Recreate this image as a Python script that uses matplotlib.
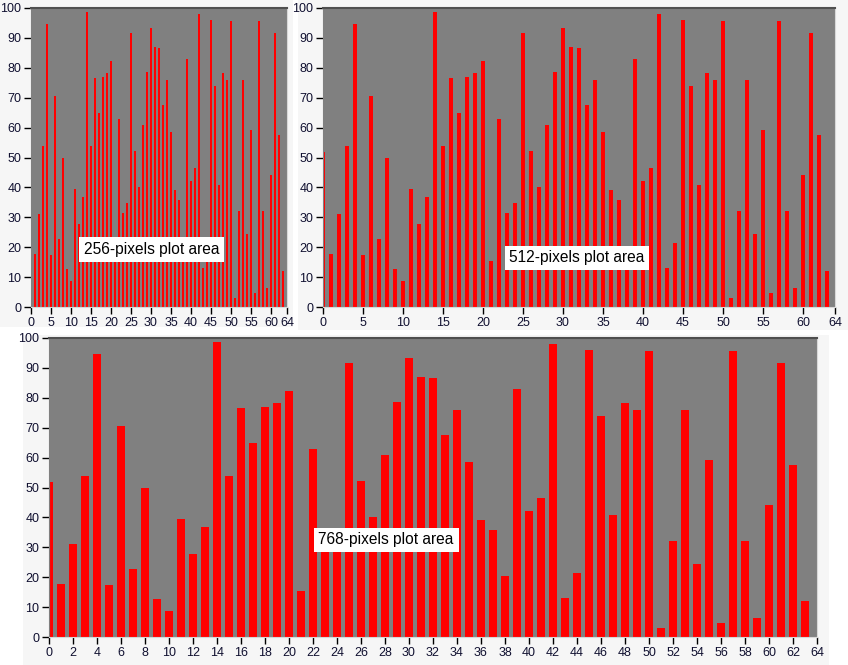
import numpy as np
import matplotlib.pyplot as plt
from matplotlib.patches import Rectangle

# bar heights, index 0..63
values = [51.7, 17.7, 31.2, 53.8, 94.8, 17.4, 70.5, 22.8, 49.7, 12.6,
          8.6, 39.3, 27.9, 36.9, 98.5, 53.8, 76.6, 64.8, 76.9, 78.2,
          82.3, 15.4, 62.8, 31.5, 34.9, 91.8, 52.1, 40.2, 60.8, 78.5,
          93.4, 87.0, 86.7, 67.5, 75.9, 58.4, 39.2, 35.9, 20.3, 82.9,
          42.0, 46.6, 98.1, 13.0, 21.5, 96.1, 73.9, 40.9, 78.2, 75.9,
          95.8, 2.9, 32.2, 75.9, 24.5, 59.1, 4.6, 95.8, 32.2, 6.2,
          44.3, 91.7, 57.5, 12.0]
ticks_small = [0, 5, 10, 15, 20, 25, 30, 35, 40, 45, 50, 55, 60, 64]
ticks_large = list(range(0, 65, 2))
yticks = list(range(0, 101, 10))
labels = ["256-pixels plot area", "512-pixels plot area", "768-pixels plot area"]

W, H = 848, 665
fig = plt.figure(figsize=(W / 100, H / 100), dpi=100)
fig.patch.set_facecolor('white')

def px_rect(l, t, r, b):
    # pixel box -> figure fraction [left, bottom, width, height]
    return [l / W, 1 - b / H, (r - l) / W, (b - t) / H]

# light panel backgrounds behind each chart
for l, t, r, b in [(0, 0, 293, 327), (298, 0, 848, 330), (23, 335, 829, 665)]:
    x, y, w, h = px_rect(l, t, r, b)
    fig.patches.append(Rectangle((x, y), w, h, transform=fig.transFigure,
                                 facecolor='#f6f6f6', edgecolor='none', zorder=-10))

panels = [
    (px_rect(31, 8, 287, 307), 0.5, ticks_small, (0.47, 0.192)),
    (px_rect(323, 8, 835, 307), 0.6, ticks_small, (0.496, 0.164)),
    (px_rect(49, 338, 817, 637), 0.66, ticks_large, (0.439, 0.325)),
]

x = np.arange(len(values))
for (rect, bw, xt, pos), label in zip(panels, labels):
    ax = fig.add_axes(rect)
    ax.set_facecolor('#808080')
    ax.bar(x, values, width=bw, color='#ff0000', align='center')
    ax.set_xlim(0, 64)
    ax.set_ylim(0, 100)
    ax.set_xticks(xt)
    ax.set_yticks(yticks)
    ax.tick_params(direction='out', length=5, width=1, color='black',
                   labelcolor='#101030', pad=2)
    for lab in ax.get_xticklabels() + ax.get_yticklabels():
        lab.set_family('Liberation Sans')
        lab.set_fontsize(9)
    ax.spines['top'].set_color('#505050')
    ax.spines['top'].set_linewidth(1.5)
    ax.spines['left'].set_color('#808080')
    ax.spines['right'].set_color('#d8d8d8')
    ax.spines['bottom'].set_color('#d8d8d8')
    ax.text(pos[0], pos[1], label, transform=ax.transAxes, ha='center', va='center',
            fontsize=11.2, family='Liberation Sans', color='black', zorder=5,
            bbox=dict(boxstyle='square,pad=0.3', facecolor='white', edgecolor='none'))

plt.savefig('out.png', dpi=100, facecolor=fig.get_facecolor())
